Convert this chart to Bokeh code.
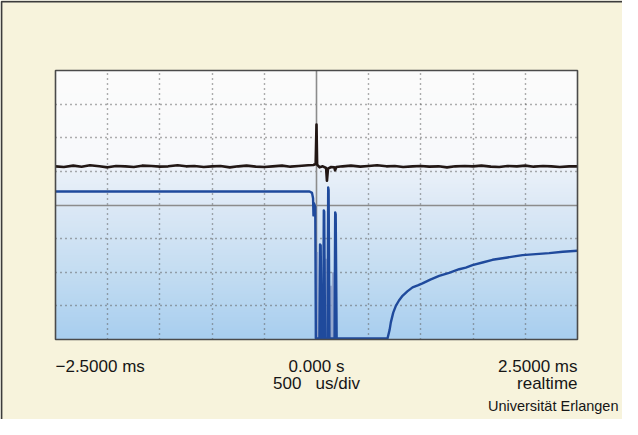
import numpy as np
from bokeh.plotting import figure
from bokeh.models import Range1d, Label, Grid, FixedTicker
from bokeh.embed import file_html
from bokeh.resources import INLINE

# ---------------- data ----------------
# time in ms, amplitude in screen divisions (8 divisions high, centre = 0)
x_min, x_max = -2.5, 2.5
y_min, y_max = -4.0, 4.0

grid_x = [-2.0, -1.5, -1.0, -0.5, 0.5, 1.0, 1.5, 2.0]
grid_y = [-3.0, -2.0, -1.0, 1.0, 2.0, 3.0]
centre_x = [0.0]
centre_y = [0.0]

# channel 1 (black): flat noisy line with a trigger spike at t = 0
ch1_t = [-2.50, -2.42, -2.33, -2.25, -2.17, -2.08, -2.00, -1.92, -1.83, -1.75,
         -1.67, -1.58, -1.50, -1.42, -1.33, -1.25, -1.17, -1.08, -1.00, -0.92,
         -0.83, -0.75, -0.67, -0.58, -0.50, -0.42, -0.33, -0.25, -0.17, -0.08,
         -0.03, -0.008, 0.000, 0.006, 0.030, 0.060, 0.092, 0.100, 0.110, 0.140,
         0.170, 0.178, 0.190, 0.25, 0.33, 0.42, 0.50, 0.58, 0.67, 0.75, 0.83,
         0.92, 1.00, 1.08, 1.17, 1.25, 1.33, 1.42, 1.50, 1.58, 1.67, 1.75, 1.83,
         1.92, 2.00, 2.08, 2.17, 2.25, 2.33, 2.42, 2.50]
ch1_v = [1.15, 1.13, 1.17, 1.14, 1.18, 1.15, 1.12, 1.16, 1.15, 1.13,
         1.17, 1.16, 1.14, 1.15, 1.18, 1.15, 1.16, 1.13, 1.15, 1.16,
         1.12, 1.15, 1.17, 1.14, 1.13, 1.15, 1.17, 1.14, 1.16, 1.18,
         1.19, 1.22, 2.39, 1.20, 1.12, 1.15, 1.10, 0.72, 1.08, 1.13,
         1.12, 1.03, 1.13, 1.15, 1.17, 1.14, 1.16, 1.18, 1.15, 1.16, 1.13,
         1.15, 1.16, 1.14, 1.15, 1.12, 1.15, 1.16, 1.15, 1.17, 1.14, 1.13, 1.16,
         1.15, 1.17, 1.14, 1.16, 1.15, 1.13, 1.15, 1.15]

# channel 2 (blue): high level, burst of pulses, low level, slow recovery
ch2_t = [-2.50, -0.067, -0.043, -0.033, -0.029, -0.024, -0.012, -0.006,
         0.028, 0.034, 0.040, 0.048,
         0.064, 0.070, 0.074, 0.082,
         0.106, 0.112, 0.116, 0.124,
         0.173, 0.179, 0.184, 0.193,
         0.680, 0.700, 0.712, 0.735, 0.760, 0.790, 0.824, 0.870, 0.920, 0.970,
         1.015, 1.090, 1.175, 1.270, 1.367, 1.430, 1.494, 1.590, 1.686, 1.830,
         1.973, 2.100, 2.229, 2.360, 2.500]
ch2_v = [0.40, 0.40, 0.36, 0.20, -0.31, 0.05, -0.05, -3.97,
         -3.97, -1.17, -1.20, -3.97,
         -3.97, -0.16, -0.20, -3.97,
         -3.97, 0.52, 0.45, -3.97,
         -3.97, -0.22, -0.28, -3.97,
         -3.97, -3.72, -3.49, -3.20, -3.00, -2.84, -2.70, -2.57, -2.45, -2.39,
         -2.33, -2.22, -2.11, -2.02, -1.91, -1.86, -1.79, -1.71, -1.63, -1.56,
         -1.49, -1.46, -1.43, -1.39, -1.36]

# faint persistence traces between the pulses
ghost_t = [-0.004, 0.004, 0.012, 0.050, 0.055, 0.061, 0.086, 0.092, 0.100,
           0.128, 0.136, 0.146, 0.150, 0.160, 0.168]
ghost_v = [-3.97, -1.40, -3.97, -3.97, -2.30, -3.97, -3.97, -1.60, -3.97,
           -3.97, -2.40, -3.97, -3.97, -2.00, -3.97]

label_left = "\u22122.5000 ms"
label_centre = ["0.000 s", "500\u00a0\u00a0 us/div"]
label_right = ["2.5000 ms", "realtime"]
credit = "Universit\u00e4t Erlangen"

# ---------------- layout ----------------
W, H = 622, 419
px_per_ms = 522 / (x_max - x_min)
px_per_div = 269 / (y_max - y_min)
scr_left, scr_top = 55, 70          # screen position inside the canvas
x_start = x_min - scr_left / px_per_ms
x_end = x_start + W / px_per_ms
y_end = y_max + scr_top / px_per_div
y_start = y_end - H / px_per_div

cream = "#f7f3dc"
p = figure(width=W, height=H, output_backend="svg", toolbar_location=None,
           x_axis_type=None, y_axis_type=None, min_border=0,
           x_range=Range1d(x_start, x_end), y_range=Range1d(y_start, y_end))
p.background_fill_color = cream
p.border_fill_color = cream
p.outline_line_color = None

# screen background gradient (white on top, light blue below)
n = 270
ys = y_min + (np.arange(n) + 0.5) / n * (y_max - y_min)
stops_y = [-4.0, -2.0, 0.0, 1.0, 1.3, 4.0]
stops_r = [168, 196, 221, 234, 248, 252]
stops_g = [206, 221, 233, 241, 249, 252]
stops_b = [239, 242, 246, 249, 251, 252]
img = np.empty((n, 1), dtype=np.uint32)
view = img.view(dtype=np.uint8).reshape((n, 1, 4))
view[:, 0, 0] = np.interp(ys, stops_y, stops_r).astype(np.uint8)
view[:, 0, 1] = np.interp(ys, stops_y, stops_g).astype(np.uint8)
view[:, 0, 2] = np.interp(ys, stops_y, stops_b).astype(np.uint8)
view[:, 0, 3] = 255
p.image_rgba(image=[img], x=x_min, y=y_min, dw=x_max - x_min, dh=y_max - y_min,
             level="image")

# grids
if "cross_bounds" in Grid.properties():
    for dim, ticks, cb in [(0, grid_x, (y_min, y_max)), (1, grid_y, (x_min, x_max))]:
        g = Grid(dimension=dim, ticker=FixedTicker(ticks=ticks), cross_bounds=cb,
                 grid_line_color="#5e5e5e", grid_line_dash="1 4", grid_line_width=1.4)
        p.add_layout(g)
    for dim, ticks, cb in [(0, centre_x, (y_min, y_max)), (1, centre_y, (x_min, x_max))]:
        g = Grid(dimension=dim, ticker=FixedTicker(ticks=ticks), cross_bounds=cb,
                 grid_line_color="#8c8c8c", grid_line_width=1.6)
        p.add_layout(g)
else:
    p.segment(x0=grid_x, x1=grid_x, y0=y_min, y1=y_max, line_color="#5e5e5e",
              line_dash="1 4", line_width=1.4)
    p.segment(x0=x_min, x1=x_max, y0=grid_y, y1=grid_y, line_color="#5e5e5e",
              line_dash="1 4", line_width=1.4)
    p.segment(x0=centre_x, x1=centre_x, y0=y_min, y1=y_max, line_color="#8c8c8c",
              line_width=1.6)
    p.segment(x0=x_min, x1=x_max, y0=centre_y, y1=centre_y, line_color="#8c8c8c",
              line_width=1.6)

# traces
p.line(ghost_t, ghost_v, line_color="#8d9cc4", line_width=2.5, line_alpha=0.8)
p.line(ch2_t, ch2_v, line_color="#1f4a9c", line_width=2.4, line_join="round")
p.line(ch1_t, ch1_v, line_color="#221714", line_width=2.6, line_join="round")

# screen frame
p.quad(left=x_min, right=x_max, bottom=y_min, top=y_max, fill_color=None,
       line_color="#4a4a4a", line_width=1.6)

# outer panel border (top and left edge of the page panel)
ex = 1 / px_per_ms
ey = 1.2 / px_per_div
p.line([x_start + ex, x_start + ex, x_end], [y_start, y_end - ey, y_end - ey],
       line_color="#3c3c3c", line_width=1.8)

# texts
font = "Liberation Sans"
row1 = y_end - 366 / px_per_div
row2 = y_end - 383 / px_per_div
for txt, x, y, al in [(label_left, x_min, row1, "left"),
                      (label_centre[0], 0.0, row1, "center"),
                      (label_centre[1], 0.0, row2, "center"),
                      (label_right[0], x_max, row1, "right"),
                      (label_right[1], x_max, row2, "right")]:
    p.add_layout(Label(x=x, y=y, text=txt, text_align=al, text_baseline="alphabetic",
                       text_font=font, text_font_size="17px", text_color="#161616"))
p.add_layout(Label(x=x_end - 4 / px_per_ms, y=y_end - 405 / px_per_div, text=credit,
                   text_align="right", text_baseline="alphabetic", text_font=font,
                   text_font_size="14.5px", text_color="#161616"))

open("out.html", "w").write(file_html(p, INLINE))
